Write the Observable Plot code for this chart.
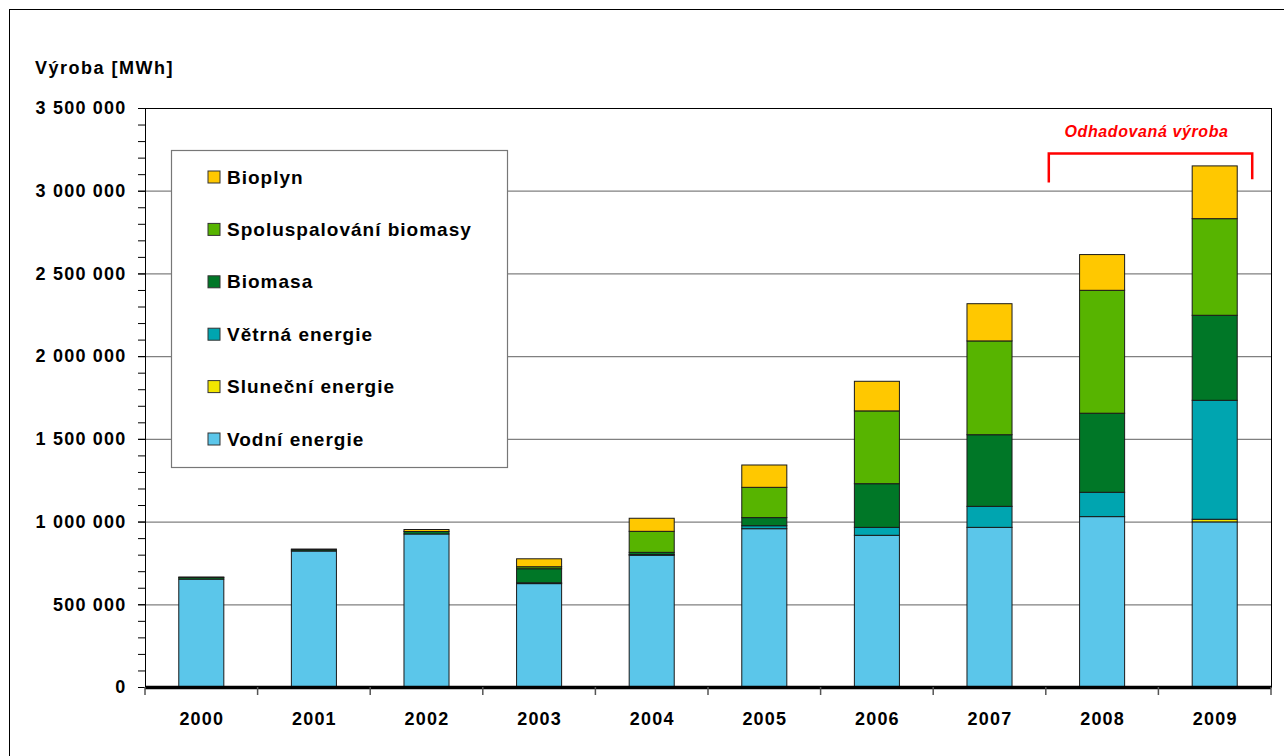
<!DOCTYPE html>
<html><head><meta charset="utf-8">
<script src="https://cdn.jsdelivr.net/npm/d3@7"></script>
<script src="https://cdn.jsdelivr.net/npm/@observablehq/plot@0.6"></script>
<style>
html,body{margin:0;padding:0;background:#fff;}
#wrap{position:relative;width:1284px;height:756px;overflow:hidden;background:#fff;}
#border{position:absolute;left:9px;top:9px;width:1300px;height:800px;border:1px solid #000;}
#chart{position:absolute;left:0;top:0;}
#chart svg text{font-family:"Liberation Sans",Arial,sans-serif;letter-spacing:1.2px;}
</style></head><body>
<div id="wrap"><div id="border"></div><div id="chart"></div></div>
<script>
const years = ["2000","2001","2002","2003","2004","2005","2006","2007","2008","2009"];
const series = ["Vodní energie","Sluneční energie","Větrná energie","Biomasa","Spoluspalování biomasy","Bioplyn"];
const colors = ["#5BC6EA","#F2E600","#00A5B0","#007727","#57B400","#FFC800"];
const vodni     = [652000, 822000, 925000, 625000, 796000, 957000, 917000, 965000, 1030000, 998000];
const slunecni  = [0, 0, 0, 0, 0, 0, 0, 0, 0, 16000];
const vetrna    = [0, 0, 0, 5000, 5000, 18000, 48000, 127000, 147000, 719000];
const biomasa   = [10000, 8000, 15000, 85000, 13000, 49000, 264000, 433000, 478000, 514000];
const spolu     = [0, 0, 0, 12000, 127000, 183000, 440000, 567000, 743000, 584000];
const bioplyn   = [3000, 4000, 12000, 48000, 79000, 135000, 179000, 225000, 216000, 319000];
const yTitle = "Výroba [MWh]";
const noteText = "Odhadovaná výroba";

const values = [vodni, slunecni, vetrna, biomasa, spolu, bioplyn];
const data = [];
series.forEach((s, i) => years.forEach((y, j) => {
  if (values[i][j] > 0) data.push({year: y, series: s, value: values[i][j]});
}));

const fmt = d3.formatLocale({decimal: ",", thousands: " ", grouping: [3], currency: ["", ""]}).format(",");

const plot = Plot.plot({
  width: 1284, height: 756,
  marginLeft: 145, marginRight: 13, marginTop: 108, marginBottom: 69,
  style: {fontFamily: "Liberation Sans, Arial, sans-serif", fontSize: "18px", fontWeight: "bold", color: "#000", background: "transparent", overflow: "visible"},
  x: {domain: years, paddingInner: 0.6, paddingOuter: 0.3, round: false, label: null},
  y: {domain: [0, 3500000], label: null},
  color: {domain: series, range: colors},
  marks: [
    Plot.gridY(d3.range(500000, 3500000, 500000), {stroke: "#808080", strokeOpacity: 1, strokeWidth: 1.3}),
    Plot.barY(data, {x: "year", y: "value", fill: "series", order: series, stroke: "#1a1a1a", strokeWidth: 1}),
    Plot.frame({stroke: "#000", strokeWidth: 1}),
    Plot.axisY(d3.range(0, 3500001, 100000), {tickSize: 7, tickFormat: () => "", stroke: "#000"}),
    Plot.axisY(d3.range(0, 3500001, 500000), {tickSize: 7, tickPadding: 12, tickFormat: fmt, stroke: "#000"}),
    Plot.ruleY([0], {stroke: "#000", strokeWidth: 3.5}),
    Plot.axisX({tickSize: 0, tickPadding: 25})
  ]
});
document.getElementById("chart").appendChild(plot);

const svg = d3.select(plot);
const xs = plot.scale("x"), ys = plot.scale("y");
const bw = xs.bandwidth;
const step = xs.apply(years[1]) - xs.apply(years[0]);
const b0 = xs.apply(years[0]) - (step - bw) / 2;
const y0 = ys.apply(0);

// category boundary ticks
svg.append("g").selectAll("line").data(d3.range(years.length + 1)).join("line")
  .attr("x1", i => b0 + i * step).attr("x2", i => b0 + i * step)
  .attr("y1", y0).attr("y2", y0 + 8)
  .attr("stroke", "#555").attr("stroke-width", 1.5);

// y title
svg.append("text").attr("x", 35).attr("y", 74).attr("text-anchor", "start").text(yTitle)
  .attr("font-size", 18).attr("font-weight", "bold").attr("fill", "#000")
  .style("letter-spacing", "1.5px");

// estimated bracket
const bl = b0 + 8 * step + 3;
const br = xs.apply("2009") + bw + 15;
svg.append("path")
  .attr("d", `M${bl},${ys.apply(3050000)}V${ys.apply(3225000)}H${br}V${ys.apply(3070000)}`)
  .attr("fill", "none").attr("stroke", "#FF0000").attr("stroke-width", 2.5);
svg.append("text").attr("x", (bl + br) / 2 - 4).attr("y", ys.apply(3358000))
  .attr("text-anchor", "middle").attr("dominant-baseline", "central")
  .attr("font-size", 16).attr("font-weight", "bold").attr("font-style", "italic")
  .attr("fill", "#FF0000").style("letter-spacing", "0.6px").text(noteText);

// legend
const color = plot.scale("color");
const lg = svg.append("g");
lg.append("rect").attr("x", 171.5).attr("y", 150.5).attr("width", 336).attr("height", 317)
  .attr("fill", "#fff").attr("stroke", "#777").attr("stroke-width", 1.2);
series.slice().reverse().forEach((s, k) => {
  const cy = 177 + k * 52.4;
  lg.append("rect").attr("x", 208).attr("y", cy - 6).attr("width", 12).attr("height", 12)
    .attr("fill", color.apply(s)).attr("stroke", "#333").attr("stroke-width", 1);
  lg.append("text").attr("x", 227).attr("y", cy).attr("text-anchor", "start").attr("dominant-baseline", "central")
    .attr("font-size", 19).attr("font-weight", "bold").attr("fill", "#000")
    .style("letter-spacing", "1px").text(s);
});
</script>
</body></html>
